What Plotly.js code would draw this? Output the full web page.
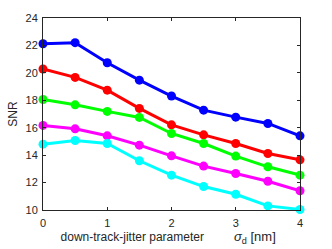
<!DOCTYPE html>
<html>
<head>
<meta charset="utf-8">
<script src="https://cdn.plot.ly/plotly-3.0.1.min.js"></script>
<style>html,body{margin:0;padding:0;background:#fff;}#chart{width:332px;height:249px;}</style>
</head>
<body>
<div id="chart"></div>
<script>
const sigma = [0, 0.5, 1, 1.5, 2, 2.5, 3, 3.5, 4];
const snrBlue = [22.12, 22.2, 20.74, 19.47, 18.31, 17.28, 16.77, 16.31, 15.41];
const snrRed = [20.28, 19.67, 18.74, 17.41, 16.21, 15.48, 14.85, 14.12, 13.66];
const snrGreen = [18.06, 17.67, 17.19, 16.75, 15.58, 14.85, 13.93, 13.15, 12.54];
const snrMagenta = [16.17, 15.92, 15.41, 14.73, 13.95, 13.2, 12.66, 12.1, 11.4];
const snrCyan = [14.8, 15.07, 14.85, 13.59, 12.54, 11.71, 11.15, 10.3, 10.04];
const xTicks = [0, 1, 2, 3, 4];
const yTicks = [10, 12, 14, 16, 18, 20, 22, 24];

const series = [
  {y: snrBlue, c: '#0000ff'},
  {y: snrRed, c: '#ff0000'},
  {y: snrGreen, c: '#00ff00'},
  {y: snrMagenta, c: '#ff00ff'},
  {y: snrCyan, c: '#00ffff'}
];
const traces = series.map(s => ({
  x: sigma, y: s.y, type: 'scatter', mode: 'lines+markers',
  line: {color: s.c, width: 3},
  marker: {color: s.c, size: 9},
  showlegend: false, cliponaxis: false
}));

const fontFam = 'Liberation Sans, Arial, sans-serif';
const axisCommon = {
  showline: true, mirror: 'ticks', linecolor: '#262626', linewidth: 1,
  ticks: 'inside', ticklen: 3, tickcolor: '#262626',
  showgrid: false, zeroline: false,
  tickfont: {family: fontFam, size: 11, color: '#262626'}
};

const layout = {
  width: 332, height: 249,
  margin: {l: 43, r: 32, t: 18, b: 39},
  paper_bgcolor: '#fff', plot_bgcolor: '#fff',
  xaxis: Object.assign({}, axisCommon, {
    range: [0, 4], tickvals: xTicks, ticktext: xTicks.map(String),
    ticklabelstandoff: 3,
    title: {text: 'down-track-jitter parameter         <span style="font-size:13px"><i>σ</i><sub>d</sub> [nm]</span>&nbsp;&nbsp;', standoff: 3,
      font: {family: fontFam, size: 12, color: '#262626'}}
  }),
  yaxis: Object.assign({}, axisCommon, {
    range: [10, 24], tickvals: yTicks, ticktext: yTicks.map(String),
    ticklabelstandoff: 2,
    title: {text: 'SNR', standoff: 5,
      font: {family: fontFam, size: 12, color: '#262626'}}
  })
};

Plotly.newPlot('chart', traces, layout, {staticPlot: true, displayModeBar: false});
</script>
</body>
</html>
